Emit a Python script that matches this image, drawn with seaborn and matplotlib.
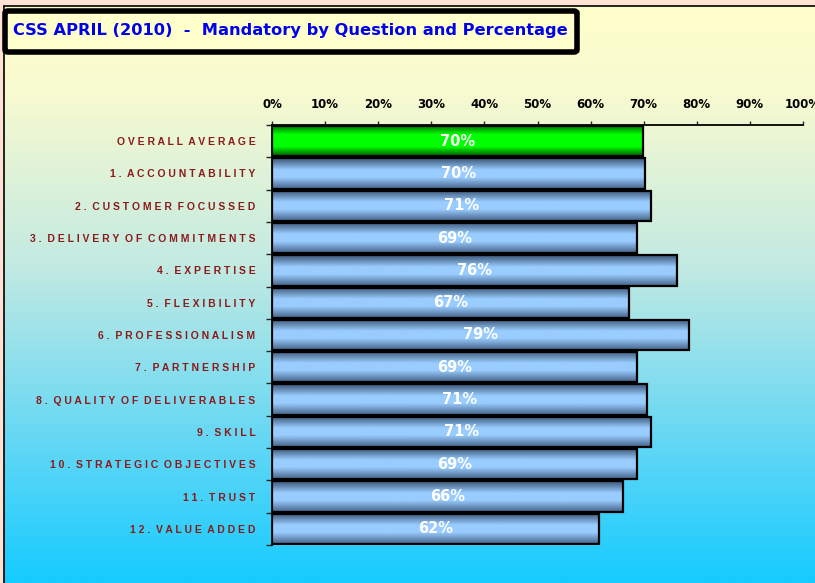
import matplotlib
matplotlib.use("Agg")
import matplotlib.pyplot as plt
from matplotlib.colors import LinearSegmentedColormap
from matplotlib.patches import FancyBboxPatch
from matplotlib.lines import Line2D
import numpy as np
import pandas as pd
import seaborn as sns

# data
categories = ["OVERALL AVERAGE", "1. ACCOUNTABILITY", "2. CUSTOMER FOCUSSED",
              "3. DELIVERY OF COMMITMENTS", "4. EXPERTISE", "5. FLEXIBILITY",
              "6. PROFESSIONALISM", "7. PARTNERSHIP", "8. QUALITY OF DELIVERABLES",
              "9. SKILL", "10. STRATEGIC OBJECTIVES", "11. TRUST", "12. VALUE ADDED"]
scores = [69.9, 70.3, 71.4, 68.8, 76.3, 67.3, 78.6, 68.8, 70.6, 71.4, 68.8, 66.1, 61.6]
tick_values = [0, 10, 20, 30, 40, 50, 60, 70, 80, 90, 100]
tick_labels = ["0%", "10%", "20%", "30%", "40%", "50%", "60%", "70%", "80%", "90%", "100%"]
title = "CSS APRIL (2010)  -  Mandatory by Question and Percentage"

sns.set_style("ticks")
plt.rcParams["font.family"] = ["Liberation Sans", "DejaVu Sans"]
wide = ["DejaVu Sans"]  # wider face, closer to the tracked Arial of the original


def spaced(s):
    # the original labels are drawn with wide letter tracking
    return "  ".join(" ".join(w) for w in s.split(" "))


W, H = 815, 583
fig = plt.figure(figsize=(W / 100, H / 100), dpi=100)
fig.patch.set_facecolor("#FFE2D4")

# background gradient panel
bg = fig.add_axes([4 / W, 0, 1 - 4 / W, 1 - 6 / H], zorder=0)
bg_cmap = LinearSegmentedColormap.from_list(
    "bg", [(0, "#FFFFCC"), (0.15, "#F8FAD0"), (0.45, "#C2EAE2"), (0.74, "#68D8F4"),
           (1, "#16CBFF")])
bg.imshow(np.linspace(0, 1, 256).reshape(-1, 1), aspect="auto", cmap=bg_cmap,
          extent=[0, 1, 0, 1], origin="upper")
bg.set_axis_off()
fig.add_artist(Line2D([3.5 / W, 3.5 / W], [0, 1 - 5.5 / H], color="black", lw=1.2))
fig.add_artist(Line2D([3.5 / W, 1], [1 - 5.5 / H, 1 - 5.5 / H], color="black", lw=1.2))

# title box
fig.add_artist(FancyBboxPatch((5 / W, 1 - 52 / H), 572 / W, 41 / H,
                              boxstyle="round,pad=0,rounding_size=0.004",
                              transform=fig.transFigure, facecolor="#FFFFCC",
                              edgecolor="black", linewidth=4, zorder=5))
fig.text(13 / W, 1 - 30 / H, title, ha="left", va="center", color="#0000EE",
         fontsize=11.7, fontweight="bold", family=wide, zorder=6)

# main chart
ax = fig.add_axes([272 / W, 1 - 545 / H, 531 / W, 420 / H], zorder=2)
ax.set_facecolor("none")
df = pd.DataFrame({"category": categories, "score": scores})
palette = ["#00FF00"] + ["#99CCFF"] * (len(categories) - 1)
sns.barplot(data=df, y="category", x="score", hue="category", palette=palette,
            legend=False, orient="h", width=0.94, saturation=1,
            edgecolor="black", linewidth=1.6, ax=ax)

green = LinearSegmentedColormap.from_list(
    "g", [(0, "#006A00"), (0.3, "#00FF00"), (0.7, "#00FF00"), (1, "#005A00")])
blue = LinearSegmentedColormap.from_list(
    "b", [(0, "#3A5676"), (0.38, "#99CCFF"), (0.62, "#99CCFF"), (1, "#46648A")])
prof = np.linspace(0, 1, 64).reshape(-1, 1)
for i, container in enumerate(ax.containers):
    for p in container:
        x0, y0, w, h = p.get_x(), p.get_y(), p.get_width(), p.get_height()
        im = ax.imshow(prof, aspect="auto", cmap=green if i == 0 else blue,
                       extent=[x0, x0 + w, y0 + h, y0], origin="upper",
                       zorder=p.get_zorder() - 0.1)
        im.set_clip_path(p)
        p.set_facecolor("none")
    ax.bar_label(container, labels=[f"{v:.0f}%" for v in container.datavalues],
                 label_type="center", color="white", fontsize=10.5, fontweight="bold",
                 family=wide)

ax.set_xlim(0, 100)
ax.set_ylim(len(categories) - 0.5, -0.5)
ax.xaxis.tick_top()
ax.set_xticks(tick_values)
ax.set_xticklabels(tick_labels, fontsize=8.5, fontweight="bold", color="black",
                   family=wide)
ax.tick_params(axis="x", top=True, bottom=False, length=3, width=1, pad=7)
ax.set_yticks(range(len(categories)))
ax.set_yticklabels([spaced(c) for c in categories], fontsize=7.5, fontweight="bold",
                   color="#8B1A1A")
ax.set_yticks(np.arange(-0.5, len(categories), 1), minor=True)
ax.tick_params(axis="y", which="major", length=0, pad=12)
ax.tick_params(axis="y", which="minor", length=4, width=1, left=True)
ax.set_xlabel("")
ax.set_ylabel("")
for side in ["right", "bottom"]:
    ax.spines[side].set_visible(False)
for side in ["top", "left"]:
    ax.spines[side].set_color("black")
    ax.spines[side].set_linewidth(1.3)

fig.savefig("out.png", dpi=100, facecolor=fig.get_facecolor())
